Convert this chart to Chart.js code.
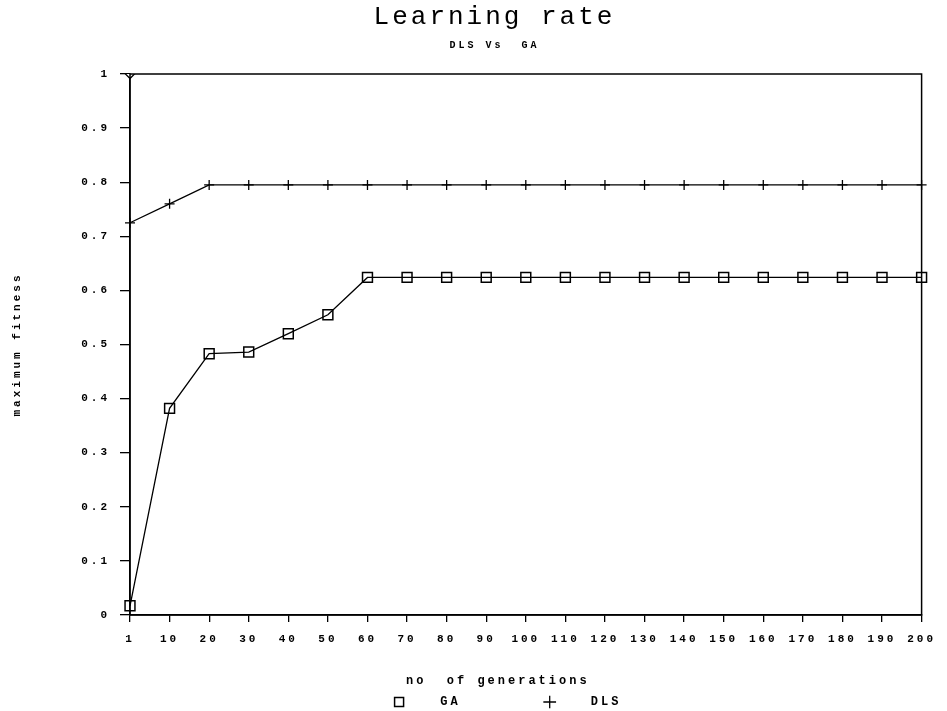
<!DOCTYPE html>
<html>
<head>
<meta charset="utf-8">
<script src="https://cdn.jsdelivr.net/npm/chart.js@4.4.1/dist/chart.umd.min.js"></script>
<style>
  html, body { margin: 0; padding: 0; background: #ffffff; }
  canvas { display: block; }
</style>
</head>
<body>
<canvas id="c" width="947" height="711"></canvas>
<script>
const generations = ['1','10','20','30','40','50','60','70','80','90','100','110','120','130','140','150','160','170','180','190','200'];
const gaFitness  = [0.017, 0.382, 0.483, 0.486, 0.520, 0.555, 0.624, 0.624, 0.624, 0.624, 0.624, 0.624, 0.624, 0.624, 0.624, 0.624, 0.624, 0.624, 0.624, 0.624, 0.624];
const dlsFitness = [0.725, 0.760, 0.795, 0.795, 0.795, 0.795, 0.795, 0.795, 0.795, 0.795, 0.795, 0.795, 0.795, 0.795, 0.795, 0.795, 0.795, 0.795, 0.795, 0.795, 0.795];
const cornerMark = [1.0];

const TITLE = 'Learning rate';
const SUBTITLE = 'DLS Vs  GA';
const X_TITLE = 'no  of generations  ';
const Y_TITLE = 'maximum fitness';

const MONO = "'Liberation Mono', 'DejaVu Sans Mono', monospace";

const layoutPlugin = {
  id: 'layoutTweaks',
  beforeUpdate(chart) { chart.ctx.letterSpacing = '3px'; },
  afterLayout(chart) {
    const shiftH = (box, d) => { box.left += d; box.right += d; };
    chart.boxes.forEach(b => {
      if (b === chart.legend) {
        shiftH(b, 45.5);
        b.top += 7; b.bottom += 7;
      } else if (b.options && (b.options.text === TITLE || b.options.text === SUBTITLE)) {
        shiftH(b, 32);
      }
    });
  },
  beforeDraw(chart) {
    const ctx = chart.ctx;
    ctx.letterSpacing = '3px';
    ctx.save();
    ctx.fillStyle = '#ffffff';
    ctx.fillRect(0, 0, chart.width, chart.height);
    ctx.restore();
  },
  afterDatasetsDraw(chart) {
    const {ctx, chartArea: a} = chart;
    ctx.save();
    ctx.strokeStyle = '#000';
    ctx.lineWidth = 1.5;
    ctx.strokeRect(a.left, a.top, a.right - a.left, a.bottom - a.top);
    ctx.restore();
  }
};

new Chart(document.getElementById('c'), {
  type: 'line',
  data: {
    labels: generations,
    datasets: [
      {
        label: '   GA        ',
        data: gaFitness,
        borderColor: '#000',
        borderWidth: 1.3,
        pointStyle: 'rect',
        pointRadius: 7,
        pointBorderWidth: 1.5,
        pointBorderColor: '#000',
        pointBackgroundColor: 'rgba(0,0,0,0)',
        tension: 0
      },
      {
        label: '   DLS',
        data: dlsFitness,
        borderColor: '#000',
        borderWidth: 1.3,
        pointStyle: 'cross',
        pointRadius: 5,
        pointBorderWidth: 1.3,
        pointBorderColor: '#000',
        pointBackgroundColor: 'rgba(0,0,0,0)',
        tension: 0
      },
      {
        label: 'mark',
        data: cornerMark,
        showLine: false,
        borderColor: '#000',
        pointStyle: 'rectRot',
        pointRadius: 4.5,
        pointBorderWidth: 1.3,
        pointBorderColor: '#000',
        pointBackgroundColor: '#fff'
      }
    ]
  },
  options: {
    responsive: false,
    animation: false,
    layout: { padding: { left: 0, right: 22, top: 0, bottom: 0 } },
    plugins: {
      title: {
        display: true,
        text: TITLE,
        color: '#000',
        font: { family: MONO, size: 26, weight: 'normal' },
        padding: { top: 2, bottom: 6 }
      },
      subtitle: {
        display: true,
        text: SUBTITLE,
        color: '#000',
        font: { family: MONO, size: 10, weight: 'bold' },
        padding: { top: 0, bottom: 22.8 }
      },
      legend: {
        position: 'bottom',
        title: {
          display: true,
          text: X_TITLE,
          color: '#000',
          font: { family: MONO, size: 12, weight: 'bold' },
          padding: { top: 13, bottom: 3.6 }
        },
        labels: {
          color: '#000',
          font: { family: MONO, size: 12, weight: 'bold' },
          usePointStyle: true,
          boxWidth: 9,
          boxHeight: 9,
          padding: 3,
          filter: (item) => item.text.trim() !== 'mark'
        }
      },
      tooltip: { enabled: false }
    },
    scales: {
      x: {
        type: 'category',
        offset: false,
        afterFit: (s) => { s.height = 40; },
        grid: { display: true, drawOnChartArea: false, drawTicks: true, tickLength: 7, color: '#000', lineWidth: 1.3 },
        border: { display: true, color: '#000', width: 1.5 },
        ticks: {
          color: '#000',
          font: { family: MONO, size: 11, weight: 'bold' },
          padding: 11,
          maxRotation: 0,
          autoSkip: false
        }
      },
      y: {
        min: 0,
        max: 1,
        afterFit: (s) => { s.width = 130; },
        grid: { display: true, drawOnChartArea: false, drawTicks: true, tickLength: 10, color: '#000', lineWidth: 1.3 },
        border: { display: true, color: '#000', width: 1.5 },
        ticks: {
          stepSize: 0.1,
          color: '#000',
          font: { family: MONO, size: 11, weight: 'bold' },
          padding: 10,
          callback: (v) => String(Number(Number(v).toFixed(1)))
        },
        title: {
          display: true,
          text: Y_TITLE,
          color: '#000',
          font: { family: MONO, size: 11, weight: 'bold' },
          padding: { top: 11, bottom: 0 }
        }
      }
    }
  },
  plugins: [layoutPlugin]
});
</script>
</body>
</html>
